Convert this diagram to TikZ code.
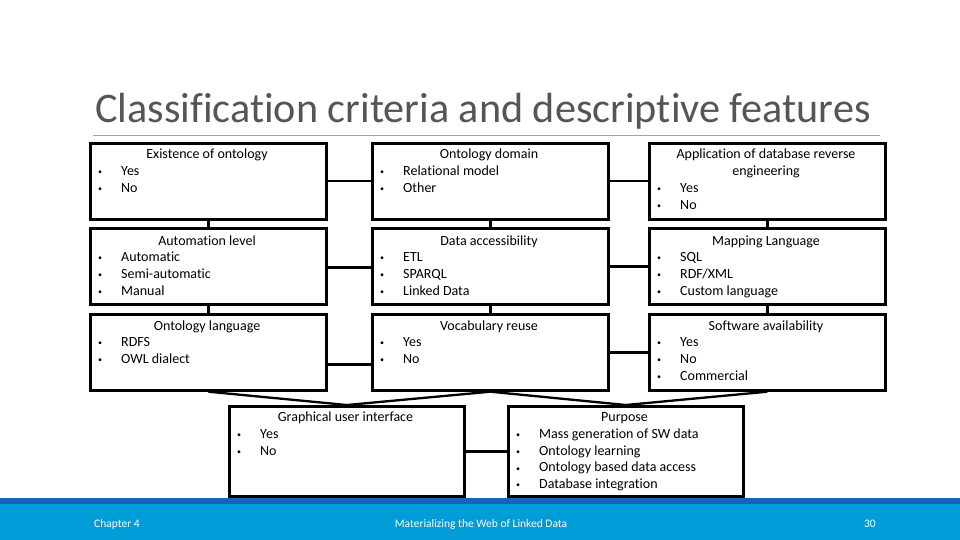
\documentclass[tikz,border=0pt]{standalone}
\usepackage{fontspec}
\setmainfont{Carlito}[Ligatures=NoCommon]
\definecolor{titlegray}{RGB}{85,85,85}
\definecolor{rulegray}{RGB}{165,165,165}
\definecolor{footdark}{RGB}{24,98,190}
\definecolor{footlight}{RGB}{0,157,216}
\newcommand\mybul{\makebox[23pt][l]{\fontsize{8}{8}\selectfont\raisebox{0.8pt}{•}}}
\newcommand\myitems[4]{%
  \foreach \t [count=\i from 0] in {#4} {%
    \node[itm] (#1-\i) at (#2,{#3+16.75*\i}) {\mybul\t};}}
\begin{document}
\begin{tikzpicture}[x=1pt,y=-1pt,
  box/.style={draw, line width=2.7pt, inner sep=0pt, anchor=north west},
  conn/.style={line width=2.3pt},
  ttl/.style={anchor=base, inner sep=0pt, font=\fontsize{14}{16.8}\selectfont},
  itm/.style={anchor=base west, inner sep=0pt, font=\fontsize{14}{16.8}\selectfont},
  foot/.style={inner sep=0pt, text=white, font=\fontsize{11.5}{13}\selectfont}]
\useasboundingbox (0,0) rectangle (960,540);
\fill[white] (0,0) rectangle (960,540);

% title
\node[anchor=base west, inner sep=0pt, text=titlegray, font=\fontsize{42.2}{48}\selectfont] (title) at (95,122.3) {Classification criteria and descriptive features};
\coordinate (rl) at (93,135.5);
\coordinate (rr) at (880,135.5);
\draw[rulegray, line width=1pt] (rl) -- (rr);

% boxes
\node[box, minimum width=236pt, minimum height=76pt] (A) at (89,142) {};
\node[box, minimum width=236pt, minimum height=76pt] (B) at (371,142) {};
\node[box, minimum width=236pt, minimum height=76pt] (C) at (648,142) {};
\node[box, minimum width=236pt, minimum height=76pt] (D) at (89,227) {};
\node[box, minimum width=236pt, minimum height=76pt] (E) at (371,227) {};
\node[box, minimum width=236pt, minimum height=76pt] (F) at (648,227) {};
\node[box, minimum width=236pt, minimum height=76pt] (G) at (89,313) {};
\node[box, minimum width=236pt, minimum height=76pt] (H) at (371,313) {};
\node[box, minimum width=236pt, minimum height=76pt] (I) at (648,313) {};
\node[box, minimum width=235pt, minimum height=90pt] (GUI) at (228,405) {};
\node[box, minimum width=235pt, minimum height=90pt] (P) at (507,405) {};

% connectors
\draw[conn] (A.east) -- (B.west);
\draw[conn] (B.east) -- (C.west);
\draw[conn] ([yshift=-1pt]D.east) -- ([yshift=-1pt]E.west);
\draw[conn] (E.east) -- (F.west);
\draw[conn] ([yshift=-12pt]G.east) -- ([yshift=-12pt]H.west);
\draw[conn] (H.east) -- (I.west);
\draw[conn] (GUI.east) -- (P.west);
\draw[conn] (A.south) -- (D.north);
\draw[conn] (B.south) -- (E.north);
\draw[conn] (C.south) -- (F.north);
\draw[conn] (D.south) -- (G.north);
\draw[conn] (E.south) -- (H.north);
\draw[conn] (F.south) -- (I.north);
\draw[conn] (G.south) -- (GUI.north);
\draw[conn] (H.south) -- (GUI.north);
\draw[conn] (H.south) -- (P.north);
\draw[conn] (I.south) -- (P.north);

% texts row 1
\node[ttl] (At) at (207,159) {Existence of ontology};
\myitems{Ai}{98}{175.5}{Yes,No}
\node[ttl] (Bt) at (489,159) {Ontology domain};
\myitems{Bi}{380}{175.5}{Relational model,Other}
\node[ttl] (Ct) at (766,159) {Application of database reverse};
\node[ttl] (Ct2) at (766,175.8) {engineering};
\myitems{Ci}{657}{192.5}{Yes,No}
% row 2
\node[ttl] (Dt) at (207,245) {Automation level};
\myitems{Di}{98}{261.5}{Automatic,Semi-automatic,Manual}
\node[ttl] (Et) at (489,245) {Data accessibility};
\myitems{Ei}{380}{261.5}{ETL,SPARQL,Linked Data}
\node[ttl] (Ft) at (766,245) {Mapping Language};
\myitems{Fi}{657}{261.5}{SQL,RDF/XML,Custom language}
% row 3
\node[ttl] (Gt) at (207,330) {Ontology language};
\myitems{Gi}{98}{346.7}{RDFS,OWL dialect}
\node[ttl] (Ht) at (489,330) {Vocabulary reuse};
\myitems{Hi}{380}{346.7}{Yes,No}
\node[ttl] (It) at (766,330) {Software availability};
\myitems{Ii}{657}{346.7}{Yes,No,Commercial}
% bottom
\node[ttl] (GUIt) at (345.5,421.7) {Graphical user interface};
\myitems{GUIi}{237}{438.4}{Yes,No}
\node[ttl] (Pt) at (624.5,421.7) {Purpose};
\myitems{Pi}{516}{438.4}{Mass generation of SW data,Ontology learning,Ontology based data access,Database integration}

% footer
\fill[footdark] (0,498) rectangle (960,503.5);
\fill[footlight] (0,503.5) rectangle (960,540);
\node[foot, anchor=base west] (f1) at (94,527) {Chapter 4};
\node[foot, anchor=base] (f2) at (481,527) {Materializing the Web of Linked Data};
\node[foot, anchor=base east] (f3) at (876,527) {30};
\end{tikzpicture}
\end{document}
